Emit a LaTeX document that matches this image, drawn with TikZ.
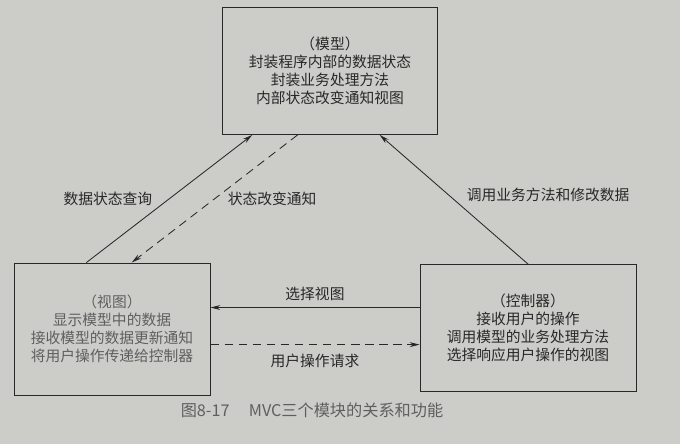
\documentclass[tikz,border=0pt]{standalone}
\usepackage{fontspec}
\setmainfont{Noto Sans CJK SC}
\usetikzlibrary{arrows.meta,calc}
\definecolor{paper}{RGB}{204,204,201}
\definecolor{ink}{RGB}{40,40,40}
\definecolor{faint}{RGB}{95,95,95}
\begin{document}
\begin{tikzpicture}[x=0.025cm,y=-0.025cm,
    box/.style={draw=ink,line width=0.6pt,align=center,inner sep=0pt,
      font=\fontsize{10.5}{12.8}\selectfont},
    lbl/.style={text=ink,font=\fontsize{10.5}{12}\selectfont},
    link/.style={draw=ink,line width=0.6pt,-{Stealth[length=7pt,width=3.5pt]}}]
    \fill[paper] (0,0) rectangle (680,444);
    \useasboundingbox (0,0) rectangle (680,444);
    % boxes
    \node[box,minimum width=5.375cm,minimum height=3.175cm,text=ink] (model) at (330,71)
        {（模型）\\封装程序内部的数据状态\\封装业务处理方法\\内部状态改变通知视图};
    \node[box,minimum width=4.9cm,minimum height=3.3cm,text=faint] (view) at (112,329)
        {（视图）\\显示模型中的数据\\接收模型的数据更新通知\\将用户操作传递给控制器};
    \node[box,minimum width=5.4cm,minimum height=3.175cm,text=ink] (ctrl) at (528,328)
        {（控制器）\\接收用户的操作\\调用模型的业务处理方法\\选择响应用户操作的视图};
    % attachment points
    \coordinate (vq) at ($(view.north west)!0.37!(view.north east)$);
    \coordinate (vn) at ($(view.north west)!0.60!(view.north east)$);
    \coordinate (mq) at ($(model.south west)!0.14!(model.south east)$);
    \coordinate (mn) at ($(model.south west)!0.35!(model.south east)$);
    \coordinate (mc) at ($(model.south west)!0.73!(model.south east)$);
    \coordinate (cs) at ($(ctrl.north west)!0.34!(ctrl.south west)$);
    \coordinate (cr) at ($(ctrl.north west)!0.63!(ctrl.south west)$);
    % connectors
    \draw[link] (vq) -- (mq) node[lbl,midway,left=0.3cm] {数据状态查询};
    \draw[link,dashed,dash pattern=on 6pt off 4pt] (mn) -- (vn)
        node[lbl,midway,right=0.2cm] {状态改变通知};
    \draw[link] (ctrl.north) -- (mc) node[lbl,midway,right=0.2cm,yshift=3pt] {调用业务方法和修改数据};
    \draw[link] (cs) -- (view.east |- cs) node[lbl,midway,above=1pt] {选择视图};
    \draw[link,dashed,dash pattern=on 6pt off 4pt] (view.east |- cr) -- (cr)
        node[lbl,midway,below=3pt] {用户操作请求};
    % caption
    \node[text=faint,font=\fontsize{11.5}{13}\selectfont] (caption) at (312,410)
        {图8-17\hspace{1.2em}MVC三个模块的关系和功能};
\end{tikzpicture}
\end{document}
